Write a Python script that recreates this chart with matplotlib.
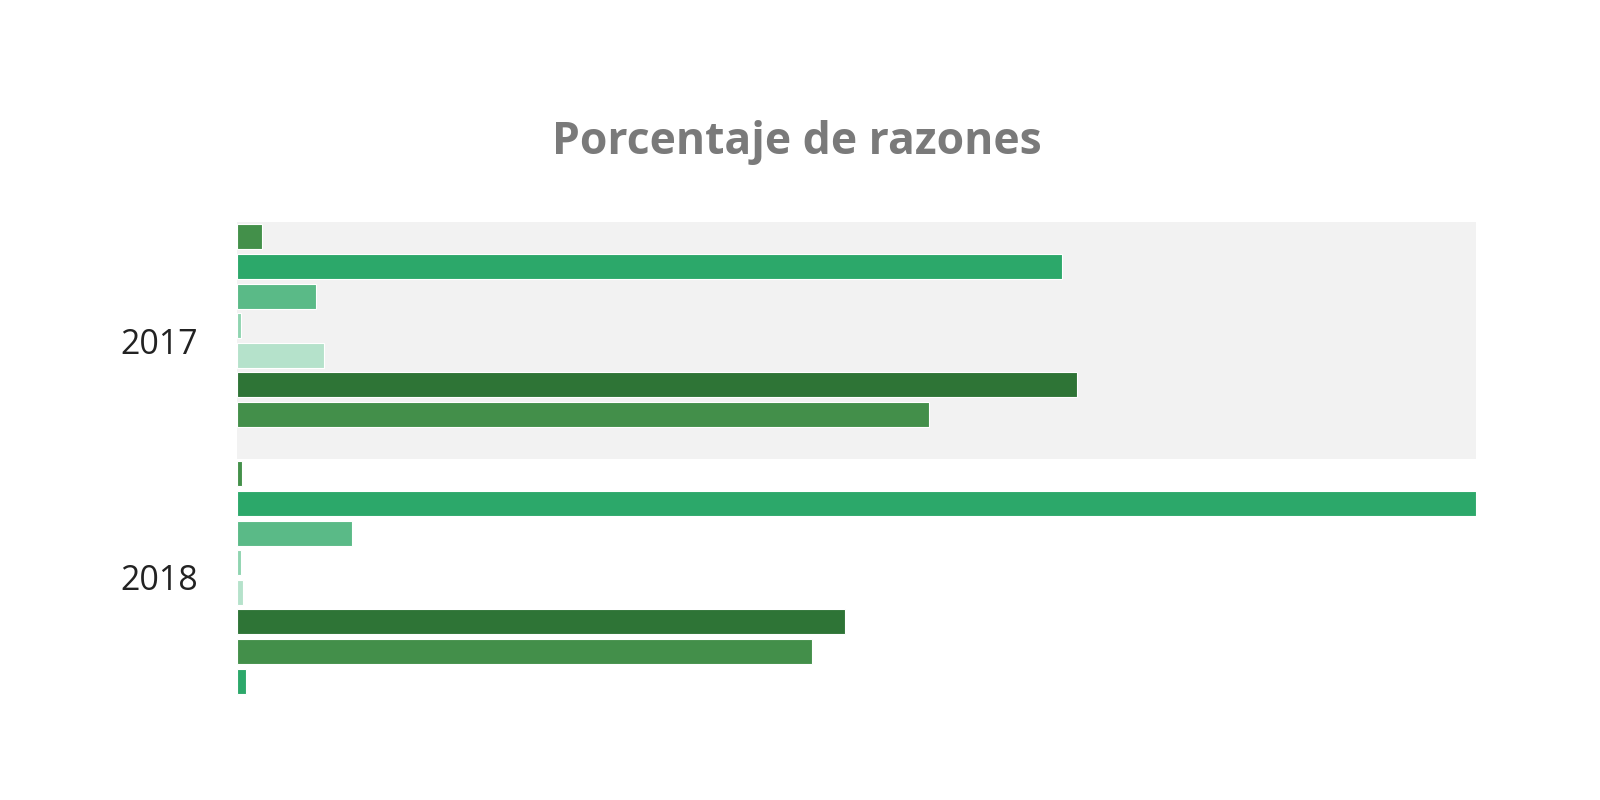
import numpy as np
import matplotlib
matplotlib.use("Agg")
import matplotlib.pyplot as plt

years = ["2017", "2018"]
# eight reason series, percentage of total per year
series_colors = ["#43904a", "#2ca86a", "#5aba87", "#8fd4b0",
                 "#b5e2cb", "#2e7436", "#438f4a", "#2ca86a"]
values_2017 = [1.0, 32.3, 3.1, 0.16, 3.4, 32.9, 27.1, 0.0]
values_2018 = [0.2, 48.5, 4.5, 0.16, 0.23, 23.8, 22.5, 0.35]

plt.rcParams['font.family'] = ['Open Sans', 'DejaVu Sans']

fig = plt.figure(figsize=(16, 8), dpi=100)
ax = fig.add_axes([0.148, 0.13, 0.9225 - 0.148, 0.5925])

n = len(series_colors)
slot = 1.0 / n
bar_h = slot * 0.84
data = np.array([values_2017, values_2018])

ax.axhspan(-0.5, 0.5, color="#f2f2f2", zorder=0, lw=0)

for i in range(n):
    ypos = np.arange(len(years)) - 0.5 + (i + 0.5) * slot
    vals = data[:, i]
    mask = vals > 0
    ax.barh(ypos[mask], vals[mask], height=bar_h, left=0,
            color=series_colors[i], edgecolor="white", linewidth=0.8, zorder=2)

ax.set_xlim(0, 48.5)
ax.set_ylim(1.5, -0.5)
ax.set_yticks(range(len(years)))
ax.set_yticklabels(years, fontsize=24.5, color="#222222")
ax.tick_params(axis="y", length=0, pad=28)
ax.set_xticks([])
for s in ax.spines.values():
    s.set_visible(False)

fig.text(0.498, 0.822, "Porcentaje de razones", ha="center", va="center",
         fontsize=32, fontweight="bold", color="#7a7a7a")

plt.savefig("out.png", dpi=100, facecolor="white")
